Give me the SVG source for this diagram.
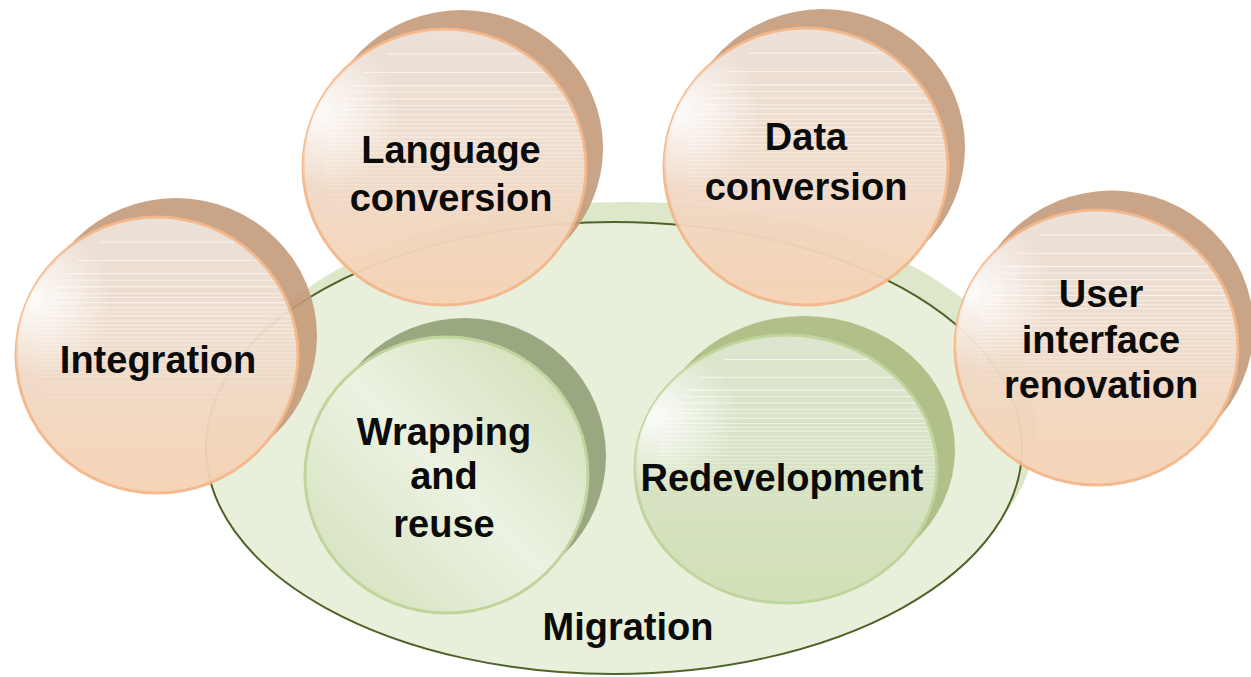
<svg xmlns="http://www.w3.org/2000/svg" width="1251" height="677" viewBox="0 0 1251 677">
  <defs>
    <style>
      .lbl { font-family: "Liberation Sans", Arial, sans-serif; font-weight: bold; font-size: 38px; fill: #0b0b0b; text-anchor: middle; }
      .o-shadow { fill: #c49b79; opacity: 0.9; }
      .o-body { fill: url(#orangeFill); stroke: #f4b78a; stroke-width: 3; }
      .g-body { stroke: #bfd59c; stroke-width: 3; }
      .stripes { fill: url(#stripes); }
      .gloss { fill: url(#gloss); }
      .veil { opacity: 0.95; }
    </style>
    <linearGradient id="orangeFill" x1="0" y1="0" x2="0" y2="1">
      <stop offset="0" stop-color="#ebdfd6"/>
      <stop offset="0.45" stop-color="#efdbca"/>
      <stop offset="1" stop-color="#f6d2b4"/>
    </linearGradient>
    <linearGradient id="wrapFill" x1="1" y1="0" x2="0" y2="1">
      <stop offset="0" stop-color="#cddcb0"/>
      <stop offset="0.5" stop-color="#ecf2e2"/>
      <stop offset="1" stop-color="#d0dfb6"/>
    </linearGradient>
    <linearGradient id="redevFill" x1="0" y1="0" x2="0" y2="1">
      <stop offset="0" stop-color="#dde5cf"/>
      <stop offset="1" stop-color="#d2e0b8"/>
    </linearGradient>
    <radialGradient id="gloss" cx="0.06" cy="0.3" r="0.28">
      <stop offset="0" stop-color="#ffffff" stop-opacity="0.9"/>
      <stop offset="1" stop-color="#ffffff" stop-opacity="0"/>
    </radialGradient>
    <!-- fine horizontal highlight lines, fading towards the lower half -->
    <pattern id="stripes" patternUnits="objectBoundingBox" patternContentUnits="objectBoundingBox" x="0" y="0" width="1" height="1">
      <g fill="#ffffff">
        <rect x="0" y="0.07" width="1" height="0.004" opacity="0.7"/>
        <rect x="0" y="0.14" width="1" height="0.004" opacity="0.6"/>
        <rect x="0" y="0.19" width="1" height="0.004" opacity="0.7"/>
        <rect x="0" y="0.215" width="1" height="0.004" opacity="0.5"/>
        <rect x="0" y="0.24" width="1" height="0.004" opacity="0.65"/>
        <rect x="0" y="0.265" width="1" height="0.004" opacity="0.55"/>
        <rect x="0" y="0.28" width="1" height="0.004" opacity="0.5"/>
        <rect x="0" y="0.30" width="1" height="0.004" opacity="0.65"/>
        <rect x="0" y="0.32" width="1" height="0.004" opacity="0.55"/>
        <rect x="0" y="0.335" width="1" height="0.004" opacity="0.5"/>
        <rect x="0" y="0.35" width="1" height="0.004" opacity="0.6"/>
        <rect x="0" y="0.37" width="1" height="0.004" opacity="0.45"/>
        <rect x="0" y="0.385" width="1" height="0.004" opacity="0.55"/>
        <rect x="0" y="0.40" width="1" height="0.004" opacity="0.4"/>
        <rect x="0" y="0.415" width="1" height="0.004" opacity="0.5"/>
        <rect x="0" y="0.43" width="1" height="0.004" opacity="0.4"/>
        <rect x="0" y="0.445" width="1" height="0.004" opacity="0.45"/>
        <rect x="0" y="0.46" width="1" height="0.004" opacity="0.35"/>
        <rect x="0" y="0.475" width="1" height="0.004" opacity="0.4"/>
        <rect x="0" y="0.49" width="1" height="0.004" opacity="0.35"/>
        <rect x="0" y="0.505" width="1" height="0.004" opacity="0.35"/>
        <rect x="0" y="0.52" width="1" height="0.004" opacity="0.3"/>
        <rect x="0" y="0.535" width="1" height="0.004" opacity="0.3"/>
        <rect x="0" y="0.55" width="1" height="0.004" opacity="0.25"/>
        <rect x="0" y="0.565" width="1" height="0.004" opacity="0.25"/>
        <rect x="0" y="0.58" width="1" height="0.004" opacity="0.2"/>
        <rect x="0" y="0.60" width="1" height="0.004" opacity="0.18"/>
        <rect x="0" y="0.62" width="1" height="0.004" opacity="0.15"/>
        <rect x="0" y="0.64" width="1" height="0.004" opacity="0.12"/>
        <rect x="0" y="0.66" width="1" height="0.004" opacity="0.1"/>
        <rect x="0" y="0.69" width="1" height="0.004" opacity="0.07"/>
      </g>
    </pattern>
    <!-- masks keep each offset shadow out from under its own disc -->
    <mask id="m-int" maskUnits="userSpaceOnUse" x="0" y="0" width="1251" height="677">
      <rect width="1251" height="677" fill="#fff"/><ellipse cx="157" cy="355" rx="141" ry="138" fill="#000"/>
    </mask>
    <mask id="m-lang" maskUnits="userSpaceOnUse" x="0" y="0" width="1251" height="677">
      <rect width="1251" height="677" fill="#fff"/><ellipse cx="444.5" cy="167" rx="141.5" ry="138" fill="#000"/>
    </mask>
    <mask id="m-data" maskUnits="userSpaceOnUse" x="0" y="0" width="1251" height="677">
      <rect width="1251" height="677" fill="#fff"/><ellipse cx="806" cy="166.5" rx="142" ry="138.5" fill="#000"/>
    </mask>
    <mask id="m-ui" maskUnits="userSpaceOnUse" x="0" y="0" width="1251" height="677">
      <rect width="1251" height="677" fill="#fff"/><ellipse cx="1096.5" cy="347.5" rx="141.5" ry="137.5" fill="#000"/>
    </mask>
  </defs>

  <rect width="1251" height="677" fill="#ffffff"/>

  <!-- Migration: the enclosing ellipse -->
  <g id="migration">
    <ellipse cx="628" cy="428" rx="408" ry="226" fill="#dde8cb"/>
    <ellipse cx="614" cy="448" rx="408" ry="226" fill="#e8f0dc" stroke="#4f6228" stroke-width="2"/>
    <text class="lbl" x="628" y="640">Migration</text>
  </g>

  <!-- Wrapping and reuse -->
  <g id="wrapping">
    <ellipse cx="464.5" cy="456" rx="141.5" ry="138" fill="#9aa882"/>
    <ellipse class="g-body" cx="446.5" cy="475" rx="141.5" ry="138" fill="url(#wrapFill)"/>
    <text class="lbl" x="444" y="445">Wrapping</text>
    <text class="lbl" x="444" y="489">and</text>
    <text class="lbl" x="444" y="537">reuse</text>
  </g>

  <!-- Redevelopment -->
  <g id="redevelopment">
    <ellipse cx="804" cy="450" rx="151" ry="134" fill="#b0c088"/>
    <ellipse class="g-body" cx="786" cy="469" rx="151" ry="134" fill="url(#redevFill)"/>
    <ellipse class="stripes" cx="796" cy="469" rx="139" ry="128"/>
    <ellipse class="gloss" cx="786" cy="469" rx="151" ry="134"/>
    <text class="lbl" x="782" y="491">Redevelopment</text>
  </g>

  <!-- Integration -->
  <g id="integration">
    <ellipse class="o-shadow" cx="176" cy="336" rx="141" ry="138" mask="url(#m-int)"/>
    <g class="veil">
      <ellipse class="o-body" cx="157" cy="355" rx="141" ry="138"/>
      <ellipse class="stripes" cx="167" cy="355" rx="129" ry="132"/>
      <ellipse class="gloss" cx="157" cy="355" rx="141" ry="138"/>
    </g>
    <text class="lbl" x="158" y="373">Integration</text>
  </g>

  <!-- Language conversion -->
  <g id="language-conversion">
    <ellipse class="o-shadow" cx="461.5" cy="148" rx="141.5" ry="138" mask="url(#m-lang)"/>
    <g class="veil">
      <ellipse class="o-body" cx="444.5" cy="167" rx="141.5" ry="138"/>
      <ellipse class="stripes" cx="454.5" cy="167" rx="129.5" ry="132"/>
      <ellipse class="gloss" cx="444.5" cy="167" rx="141.5" ry="138"/>
    </g>
    <text class="lbl" x="451" y="163">Language</text>
    <text class="lbl" x="451" y="211">conversion</text>
  </g>

  <!-- Data conversion -->
  <g id="data-conversion">
    <ellipse class="o-shadow" cx="823" cy="147.5" rx="142" ry="138.5" mask="url(#m-data)"/>
    <g class="veil">
      <ellipse class="o-body" cx="806" cy="166.5" rx="142" ry="138.5"/>
      <ellipse class="stripes" cx="816" cy="166.5" rx="130" ry="132.5"/>
      <ellipse class="gloss" cx="806" cy="166.5" rx="142" ry="138.5"/>
    </g>
    <text class="lbl" x="806" y="150">Data</text>
    <text class="lbl" x="806" y="200">conversion</text>
  </g>

  <!-- User interface renovation -->
  <g id="user-interface-renovation">
    <ellipse class="o-shadow" cx="1112" cy="328" rx="141.5" ry="137.5" mask="url(#m-ui)"/>
    <g class="veil">
      <ellipse class="o-body" cx="1096.5" cy="347.5" rx="141.5" ry="137.5"/>
      <ellipse class="stripes" cx="1106.5" cy="347.5" rx="129.5" ry="131.5"/>
      <ellipse class="gloss" cx="1096.5" cy="347.5" rx="141.5" ry="137.5"/>
    </g>
    <text class="lbl" x="1101" y="307">User</text>
    <text class="lbl" x="1101" y="353">interface</text>
    <text class="lbl" x="1101" y="398">renovation</text>
  </g>
</svg>
